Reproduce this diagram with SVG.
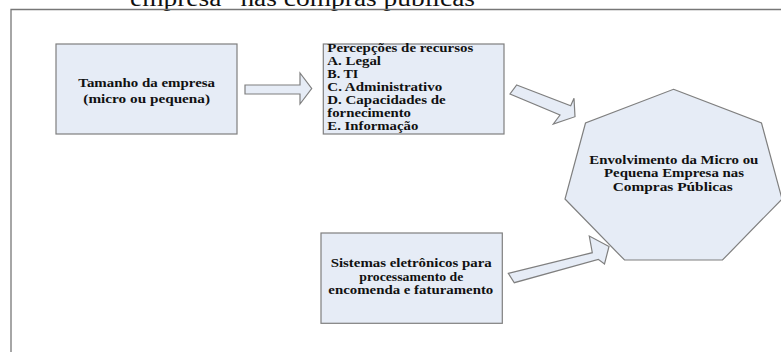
<svg xmlns="http://www.w3.org/2000/svg" width="781" height="352" viewBox="0 0 781 352">
<style>
.shape{fill:#e6ecf6;stroke:#7f7f7f;stroke-width:1.2}
.t{font-family:"Liberation Serif","Times New Roman",serif;font-weight:bold;font-size:12.5px;fill:#111}
.s{font-size:12px}
.c{text-anchor:middle}
.title{font-family:"Liberation Serif","Times New Roman",serif;font-size:24px;fill:#111}
</style>
<rect width="781" height="352" fill="#ffffff"/>
<text class="title" x="130" y="6" textLength="345" lengthAdjust="spacingAndGlyphs">empresa” nas compras públicas</text>
<path d="M11,352 V9.5 H781" fill="none" stroke="#777" stroke-width="1.3"/>
<g id="connectors">
<polygon class="shape" points="245,85 300,85 300,73 311.7,88.5 300,104 300,94 245,94"/>
<polygon class="shape" points="516.7,85 570.7,105.7 574,98.3 575,116.7 553.3,124 560,115 510,94"/>
<polygon class="shape" points="508.3,273.3 592.3,252.7 589.3,236 609,246.5 604.5,264 598.3,259.3 514.3,282.7"/>
</g>
<g id="tamanho">
<rect class="shape" x="56" y="44" width="181" height="90"/>
<text class="t c" x="146.7" y="86.7" textLength="136.7" lengthAdjust="spacingAndGlyphs">Tamanho da empresa</text>
<text class="t c" x="146.7" y="103" textLength="126.7" lengthAdjust="spacingAndGlyphs">(micro ou pequena)</text>
</g>
<g id="percepcoes">
<rect class="shape" x="323.3" y="44" width="180.7" height="90"/>
<text class="t s" x="327.3" y="52" textLength="146" lengthAdjust="spacingAndGlyphs">Percepções de recursos</text>
<text class="t s" x="327.3" y="65" textLength="53.7" lengthAdjust="spacingAndGlyphs">A. Legal</text>
<text class="t s" x="327.3" y="78" textLength="31" lengthAdjust="spacingAndGlyphs">B. TI</text>
<text class="t s" x="327.3" y="91" textLength="115" lengthAdjust="spacingAndGlyphs">C. Administrativo</text>
<text class="t s" x="327.3" y="104" textLength="118.4" lengthAdjust="spacingAndGlyphs">D. Capacidades de</text>
<text class="t s" x="327.3" y="117" textLength="83.7" lengthAdjust="spacingAndGlyphs">fornecimento</text>
<text class="t s" x="327.3" y="130" textLength="91" lengthAdjust="spacingAndGlyphs">E. Informação</text>
</g>
<g id="envolvimento">
<polygon class="shape" points="673.5,89.3 761.5,123 782,199 722.5,260 624.5,260 565,199 585.5,123"/>
<text class="t c" x="673.8" y="164" textLength="169" lengthAdjust="spacingAndGlyphs">Envolvimento da Micro ou</text>
<text class="t c" x="674" y="177.3" textLength="140" lengthAdjust="spacingAndGlyphs">Pequena Empresa nas</text>
<text class="t c" x="672.7" y="190.6" textLength="120" lengthAdjust="spacingAndGlyphs">Compras Públicas</text>
</g>
<g id="sistemas">
<rect class="shape" x="321" y="233" width="181.3" height="90.3"/>
<text class="t c" x="411.2" y="267.3" textLength="161" lengthAdjust="spacingAndGlyphs">Sistemas eletrônicos para</text>
<text class="t c" x="411.3" y="280.5" textLength="104" lengthAdjust="spacingAndGlyphs">processamento de</text>
<text class="t c" x="410.8" y="293.7" textLength="165" lengthAdjust="spacingAndGlyphs">encomenda e faturamento</text>
</g>
</svg>
